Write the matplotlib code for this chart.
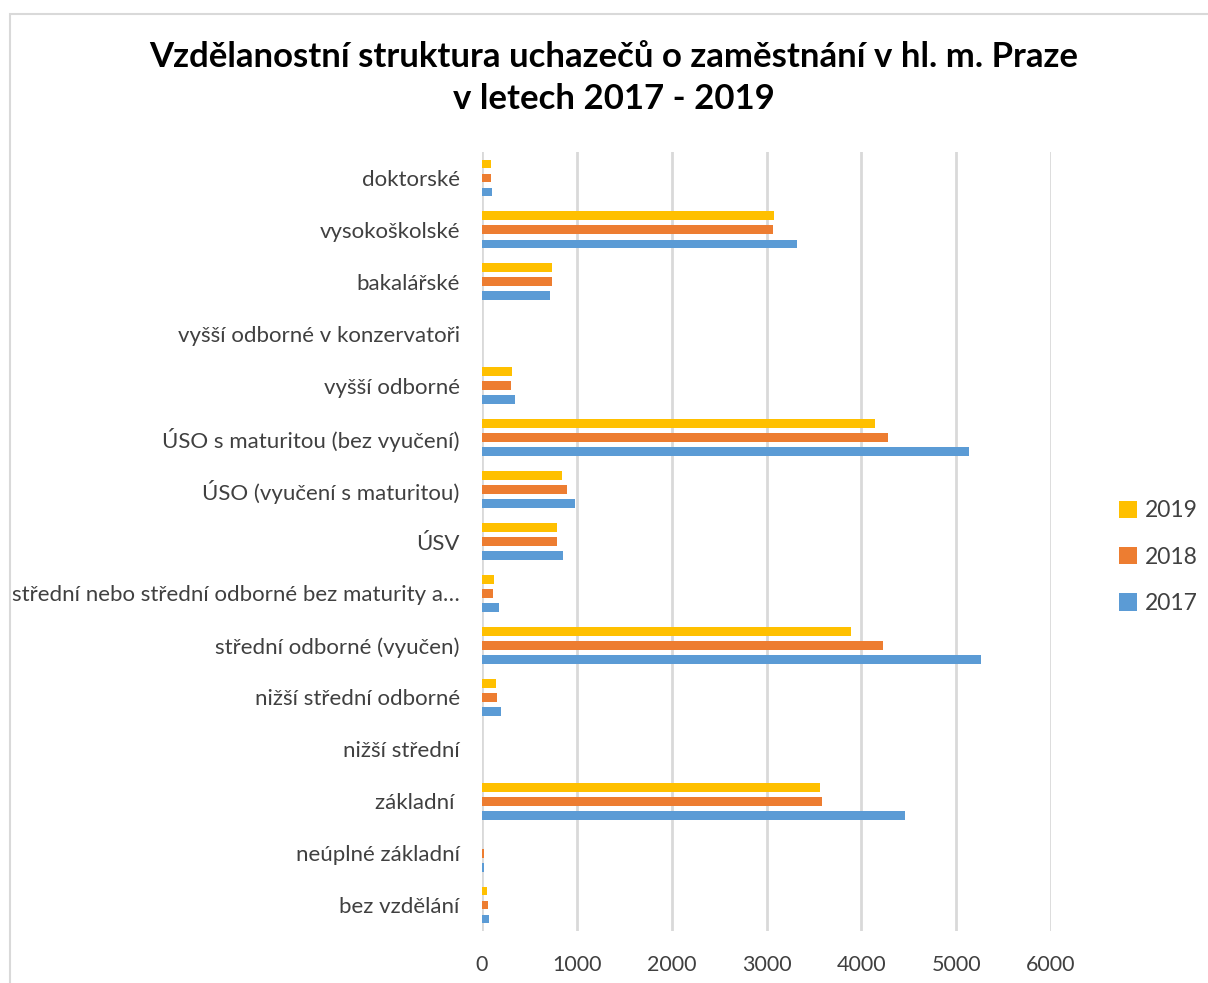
import matplotlib
matplotlib.use("Agg")
import matplotlib.pyplot as plt
import numpy as np
from matplotlib.patches import Rectangle

# categories top to bottom, as in the chart
categories = [
    "doktorské",
    "vysokoškolské",
    "bakalářské",
    "vyšší odborné v konzervatoři",
    "vyšší odborné",
    "ÚSO s maturitou (bez vyučení)",
    "ÚSO (vyučení s maturitou)",
    "ÚSV",
    "střední nebo střední odborné bez maturity a…",
    "střední odborné (vyučen)",
    "nižší střední odborné",
    "nižší střední",
    "základní ",
    "neúplné základní",
    "bez vzdělání",
]
years = ["2019", "2018", "2017"]
v2019 = [92, 3083, 743, 0, 317, 4149, 845, 792, 128, 3892, 143, 0, 3568, 0, 57]
v2018 = [92, 3069, 743, 0, 305, 4281, 898, 792, 113, 4228, 155, 0, 3583, 19, 60]
v2017 = [105, 3326, 718, 0, 347, 5136, 984, 856, 181, 5261, 196, 0, 4457, 19, 72]
xticks = [0, 1000, 2000, 3000, 4000, 5000, 6000]

colors = {"2019": "#FFC000", "2018": "#ED7D31", "2017": "#5B9BD5"}

plt.rcParams["font.family"] = ["Lato", "DejaVu Sans"]

fig = plt.figure(figsize=(12.08, 9.83), dpi=100)
fig.patches.append(Rectangle((10 / 1208, -0.1), 1.2, 1 - 14 / 983 + 0.1,
                             transform=fig.transFigure, fill=False,
                             edgecolor="#d9d9d9", linewidth=1.5))

ax = fig.add_axes([482 / 1208, 1 - 931 / 983, (1051 - 482) / 1208, (931 - 152) / 983])

y = np.arange(len(categories))
h = 0.17
off = 0.27
for vals, yr, d in [(v2019, "2019", -off), (v2018, "2018", 0), (v2017, "2017", off)]:
    ax.barh(y + d, vals, height=h, color=colors[yr], label=yr, zorder=3)

ax.set_ylim(len(categories) - 0.5, -0.5)
ax.set_xlim(0, 6000)
ax.set_xticks(xticks)
ax.set_xticklabels([str(t) for t in xticks], fontsize=15.5, color="#404040")
ax.set_yticks(y)
ax.set_yticklabels(categories, fontsize=16, color="#404040")
ax.tick_params(length=0, pad=16, axis="y")
ax.tick_params(length=0, pad=17, axis="x")
ax.grid(axis="x", color="#d9d9d9", linewidth=2, zorder=0)
for s in ax.spines.values():
    s.set_visible(False)

handles, labels = ax.get_legend_handles_labels()
fig.legend(handles, labels, loc="center left", bbox_to_anchor=(1098 / 1208, 1 - 557 / 983),
           frameon=False, fontsize=16.5, handlelength=0.8, handleheight=0.8,
           labelspacing=1.1, handletextpad=0.35, labelcolor="#404040")

fig.text(0.508, 1 - 57 / 983, "Vzdělanostní struktura uchazečů o zaměstnání v hl. m. Praze",
         ha="center", va="center", fontsize=25, fontweight="bold")
fig.text(0.508, 1 - 99 / 983, "v letech 2017 - 2019",
         ha="center", va="center", fontsize=25, fontweight="bold")

fig.savefig("out.png", dpi=100)
